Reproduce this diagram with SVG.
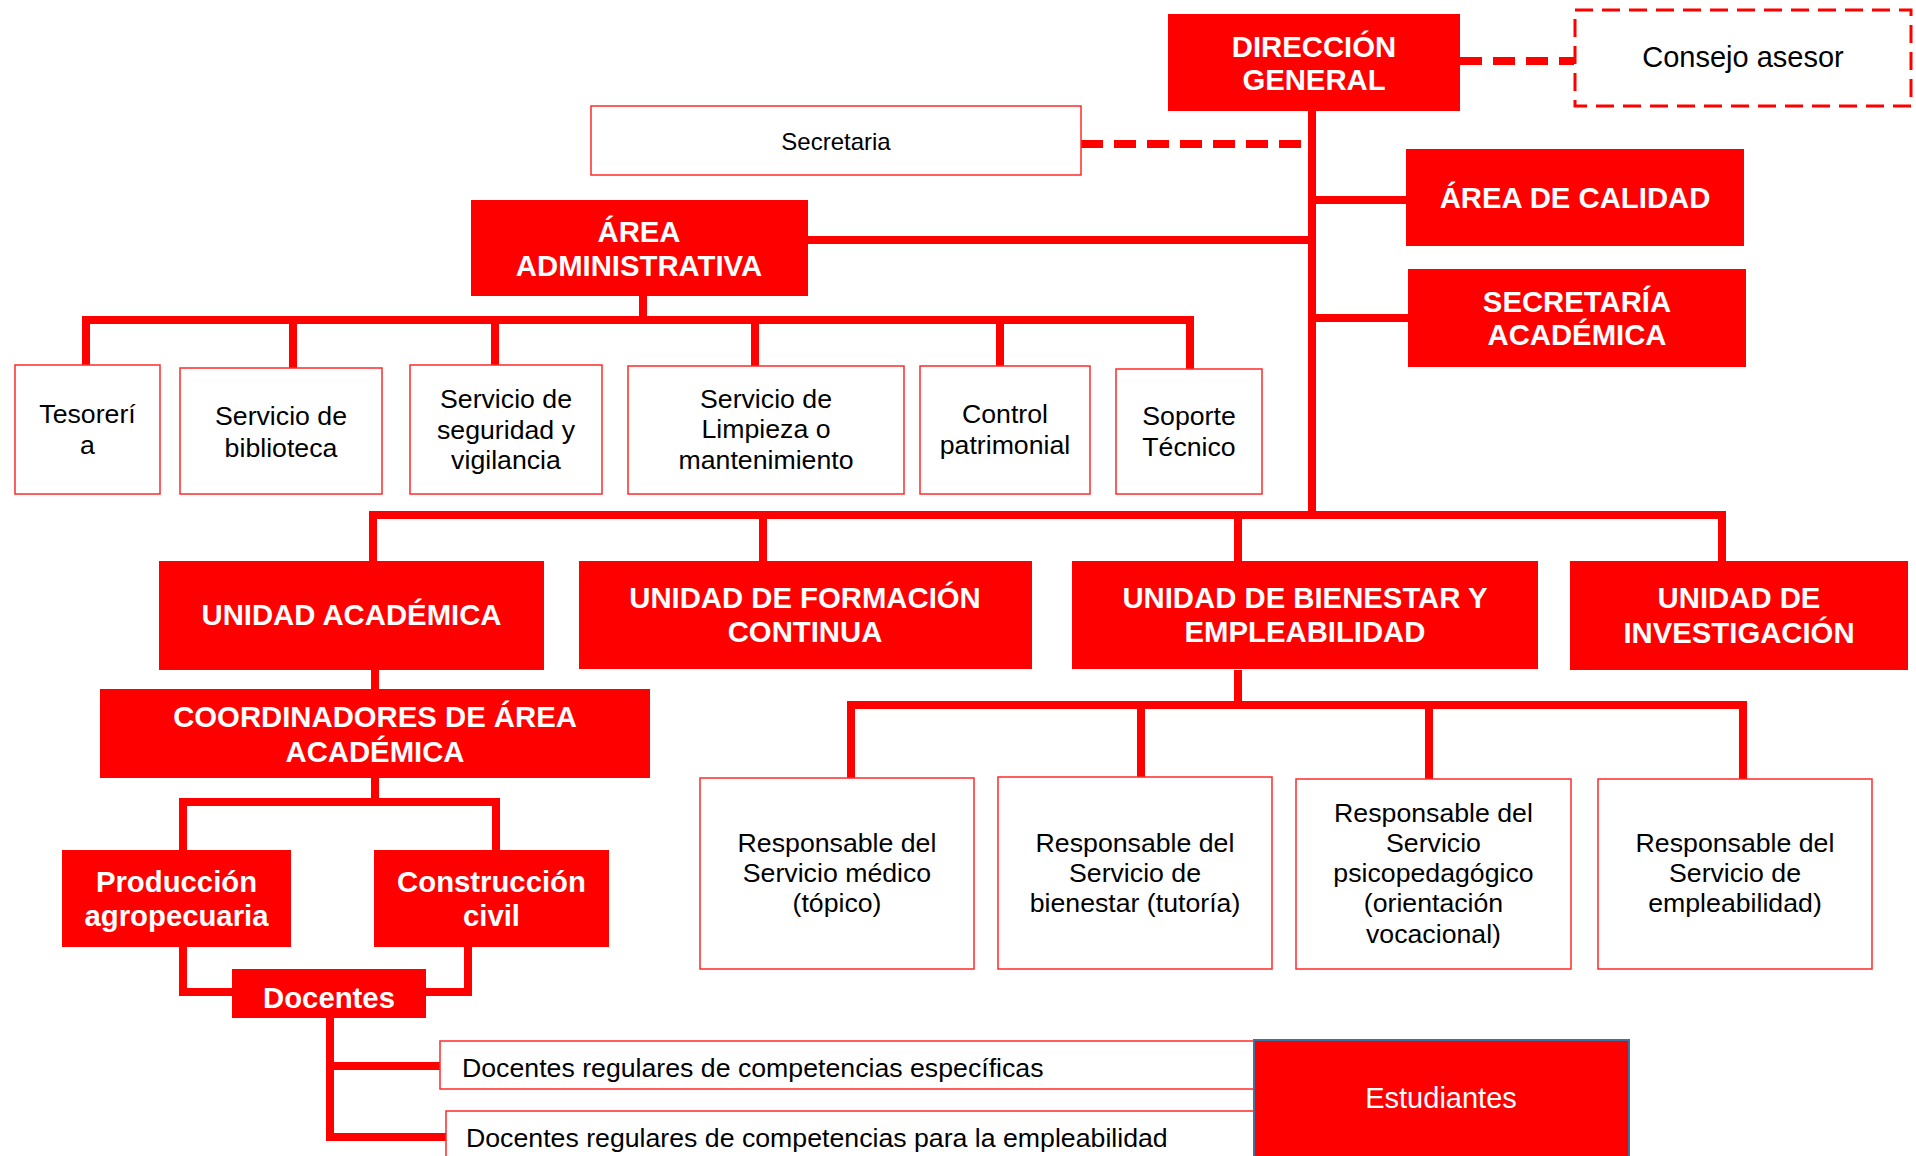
<svg xmlns="http://www.w3.org/2000/svg" width="1916" height="1156" viewBox="0 0 1916 1156">
<style>
.rb{fill:#ff0000}
.wb{fill:#ffffff;stroke:#ff2a2a;stroke-width:1.5}
.tw{fill:#ffffff;font-family:"Liberation Sans",Arial,sans-serif;font-weight:bold;font-size:29.3px;text-anchor:middle}
.tk{fill:#000000;font-family:"Liberation Sans",Arial,sans-serif;font-size:26.7px;text-anchor:middle}
.c{fill:none;stroke:#ff0000;stroke-width:8}
.d{fill:none;stroke:#ff0000;stroke-width:8;stroke-dasharray:22 11}
</style>
<rect width="1916" height="1156" fill="#ffffff"/>
<g id="connectors">
  <path class="d" d="M1460 61H1574"/>
  <path class="d" d="M1081 144H1312"/>
  <path class="c" d="M1312 111V515"/>
  <path class="c" d="M1312 200H1406"/>
  <path class="c" d="M1312 318H1408"/>
  <path class="c" d="M808 240H1312"/>
  <path class="c" d="M643 296V320"/>
  <path class="c" d="M86 365V320H1190V369"/>
  <path class="c" d="M293 320V368"/>
  <path class="c" d="M495 320V365"/>
  <path class="c" d="M755 320V366"/>
  <path class="c" d="M1000 320V366"/>
  <path class="c" d="M373 561V515H1722V561"/>
  <path class="c" d="M763 515V561"/>
  <path class="c" d="M1238 515V561"/>
  <path class="c" d="M375 670V689"/>
  <path class="c" d="M375 778V802"/>
  <path class="c" d="M183 850V802H496V850"/>
  <path class="c" d="M183 947V992H232"/>
  <path class="c" d="M468 947V992H426"/>
  <path class="c" d="M330 1018V1137H447"/>
  <path class="c" d="M330 1066H440"/>
  <path class="c" d="M1238 670V705"/>
  <path class="c" d="M851 778V705H1743V779"/>
  <path class="c" d="M1141 705V777"/>
  <path class="c" d="M1429 705V779"/>
</g>
<g id="direccion-general">
  <rect class="rb" x="1168" y="14" width="292" height="97"/>
  <text class="tw" x="1314" y="57">DIRECCIÓN</text>
  <text class="tw" x="1314" y="90">GENERAL</text>
</g>
<g id="consejo-asesor">
  <rect x="1575" y="10" width="336" height="96" fill="#ffffff" stroke="#ff0000" stroke-width="3" stroke-dasharray="18 9"/>
  <text class="tk" x="1743" y="67" style="font-size:29px">Consejo asesor</text>
</g>
<g id="secretaria">
  <rect class="wb" x="591" y="106" width="490" height="69"/>
  <text class="tk" x="836" y="150" style="font-size:24px">Secretaria</text>
</g>
<g id="area-calidad">
  <rect class="rb" x="1406" y="149" width="338" height="97"/>
  <text class="tw" x="1575" y="208">ÁREA DE CALIDAD</text>
</g>
<g id="secretaria-academica">
  <rect class="rb" x="1408" y="269" width="338" height="98"/>
  <text class="tw" x="1577" y="312">SECRETARÍA</text>
  <text class="tw" x="1577" y="345">ACADÉMICA</text>
</g>
<g id="area-administrativa">
  <rect class="rb" x="471" y="200" width="337" height="96"/>
  <text class="tw" x="639" y="242">ÁREA</text>
  <text class="tw" x="639" y="276">ADMINISTRATIVA</text>
</g>
<g id="tesoreria">
  <rect class="wb" x="15" y="365" width="145" height="129"/>
  <text class="tk" x="87.5" y="423">Tesorerí</text>
  <text class="tk" x="87.5" y="454">a</text>
</g>
<g id="biblioteca">
  <rect class="wb" x="180" y="368" width="202" height="126"/>
  <text class="tk" x="281" y="425">Servicio de</text>
  <text class="tk" x="281" y="457">biblioteca</text>
</g>
<g id="seguridad">
  <rect class="wb" x="410" y="365" width="192" height="129"/>
  <text class="tk" x="506" y="408">Servicio de</text>
  <text class="tk" x="506" y="439">seguridad y</text>
  <text class="tk" x="506" y="469">vigilancia</text>
</g>
<g id="limpieza">
  <rect class="wb" x="628" y="366" width="276" height="128"/>
  <text class="tk" x="766" y="408">Servicio de</text>
  <text class="tk" x="766" y="438">Limpieza o</text>
  <text class="tk" x="766" y="469">mantenimiento</text>
</g>
<g id="control-patrimonial">
  <rect class="wb" x="920" y="366" width="170" height="128"/>
  <text class="tk" x="1005" y="423">Control</text>
  <text class="tk" x="1005" y="454">patrimonial</text>
</g>
<g id="soporte-tecnico">
  <rect class="wb" x="1116" y="369" width="146" height="125"/>
  <text class="tk" x="1189" y="425">Soporte</text>
  <text class="tk" x="1189" y="456">Técnico</text>
</g>
<g id="unidad-academica">
  <rect class="rb" x="159" y="561" width="385" height="109"/>
  <text class="tw" x="351.5" y="625">UNIDAD ACADÉMICA</text>
</g>
<g id="unidad-formacion-continua">
  <rect class="rb" x="579" y="561" width="453" height="108"/>
  <text class="tw" x="805" y="608">UNIDAD DE FORMACIÓN</text>
  <text class="tw" x="805" y="642">CONTINUA</text>
</g>
<g id="unidad-bienestar">
  <rect class="rb" x="1072" y="561" width="466" height="108"/>
  <text class="tw" x="1305" y="608">UNIDAD DE BIENESTAR Y</text>
  <text class="tw" x="1305" y="642">EMPLEABILIDAD</text>
</g>
<g id="unidad-investigacion">
  <rect class="rb" x="1570" y="561" width="338" height="109"/>
  <text class="tw" x="1739" y="608">UNIDAD DE</text>
  <text class="tw" x="1739" y="643">INVESTIGACIÓN</text>
</g>
<g id="coordinadores">
  <rect class="rb" x="100" y="689" width="550" height="89"/>
  <text class="tw" x="375" y="727">COORDINADORES DE ÁREA</text>
  <text class="tw" x="375" y="762">ACADÉMICA</text>
</g>
<g id="produccion-agropecuaria">
  <rect class="rb" x="62" y="850" width="229" height="97"/>
  <text class="tw" x="176.5" y="892">Producción</text>
  <text class="tw" x="176.5" y="926">agropecuaria</text>
</g>
<g id="construccion-civil">
  <rect class="rb" x="374" y="850" width="235" height="97"/>
  <text class="tw" x="491.5" y="892">Construcción</text>
  <text class="tw" x="491.5" y="926">civil</text>
</g>
<g id="docentes">
  <rect class="rb" x="232" y="969" width="194" height="49"/>
  <text class="tw" x="329" y="1008">Docentes</text>
</g>
<g id="servicio-medico">
  <rect class="wb" x="700" y="778" width="274" height="191"/>
  <text class="tk" x="837" y="852">Responsable del</text>
  <text class="tk" x="837" y="882">Servicio médico</text>
  <text class="tk" x="837" y="912">(tópico)</text>
</g>
<g id="servicio-bienestar">
  <rect class="wb" x="998" y="777" width="274" height="192"/>
  <text class="tk" x="1135" y="852">Responsable del</text>
  <text class="tk" x="1135" y="882">Servicio de</text>
  <text class="tk" x="1135" y="912">bienestar (tutoría)</text>
</g>
<g id="servicio-psicopedagogico">
  <rect class="wb" x="1296" y="779" width="275" height="190"/>
  <text class="tk" x="1433.5" y="822">Responsable del</text>
  <text class="tk" x="1433.5" y="852">Servicio</text>
  <text class="tk" x="1433.5" y="882">psicopedagógico</text>
  <text class="tk" x="1433.5" y="912">(orientación</text>
  <text class="tk" x="1433.5" y="943">vocacional)</text>
</g>
<g id="servicio-empleabilidad">
  <rect class="wb" x="1598" y="779" width="274" height="190"/>
  <text class="tk" x="1735" y="852">Responsable del</text>
  <text class="tk" x="1735" y="882">Servicio de</text>
  <text class="tk" x="1735" y="912">empleabilidad)</text>
</g>
<g id="docentes-especificas">
  <rect class="wb" x="440" y="1041" width="830" height="48"/>
  <text class="tk" x="462" y="1077" style="text-anchor:start">Docentes regulares de competencias específicas</text>
</g>
<g id="docentes-empleabilidad">
  <rect class="wb" x="446" y="1111" width="824" height="60"/>
  <text class="tk" x="466" y="1147" style="text-anchor:start">Docentes regulares de competencias para la empleabilidad</text>
</g>
<g id="estudiantes">
  <rect x="1254" y="1040" width="375" height="130" fill="#ff0000" stroke="#41719c" stroke-width="2"/>
  <text x="1441" y="1108" fill="#ffffff" font-family="Liberation Sans, Arial, sans-serif" font-size="29" text-anchor="middle">Estudiantes</text>
</g>
</svg>
